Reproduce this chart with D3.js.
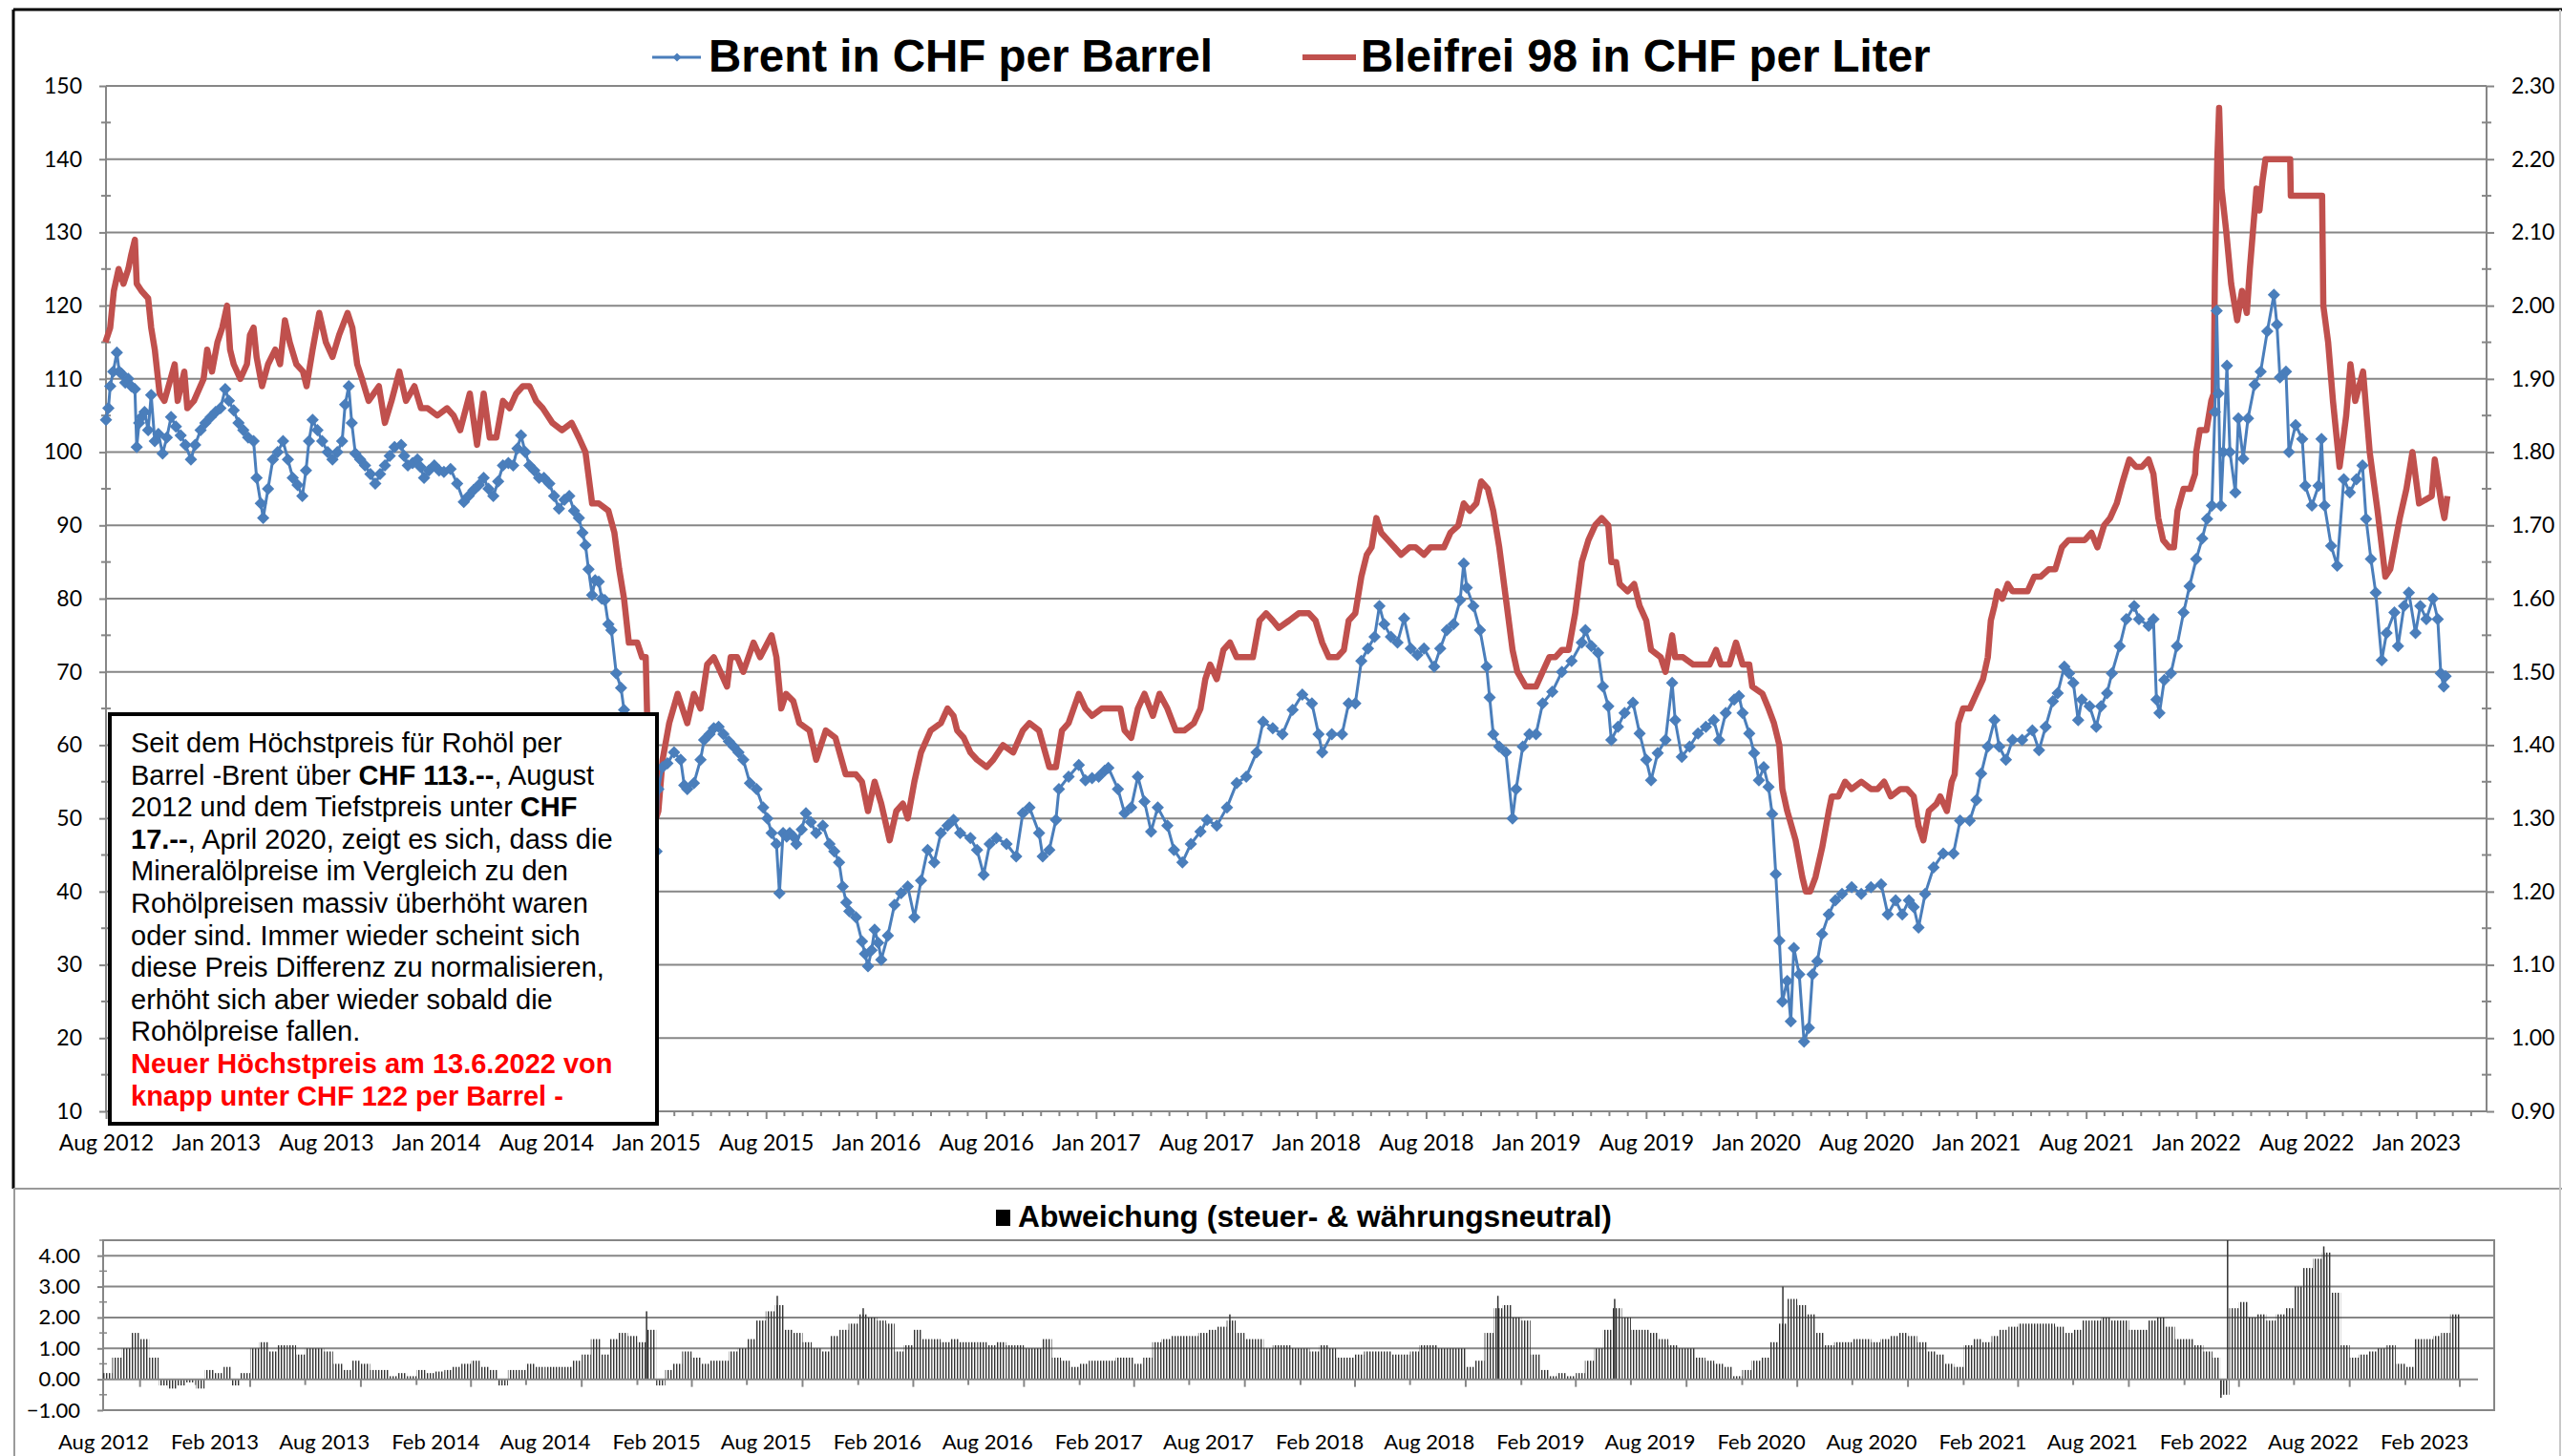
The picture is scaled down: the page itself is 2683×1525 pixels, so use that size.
<!DOCTYPE html>
<html>
<head>
<meta charset="utf-8">
<script src="https://cdn.jsdelivr.net/npm/d3@7"></script>
<style>
  body { margin: 0; background: #fff; }
  svg { display: block; }
</style>
</head>
<body>
<script>
// Brent in CHF per Barrel (left axis)
const brent = [
["2012-08-02",104.4],["2012-08-06",106],["2012-08-09",109],["2012-08-14",111],["2012-08-20",113.6],["2012-08-24",111],
["2012-08-28",110.7],["2012-09-03",109.5],["2012-09-08",110],["2012-09-13",109],["2012-09-19",108.6],["2012-09-22",100.7],
["2012-09-26",104],["2012-09-30",104.8],["2012-10-05",105.5],["2012-10-11",103],["2012-10-16",107.8],["2012-10-22",101.5],
["2012-10-28",102.5],["2012-11-04",99.8],["2012-11-11",102],["2012-11-18",104.8],["2012-11-26",103.5],["2012-12-04",102.3],
["2012-12-12",101],["2012-12-21",99],["2012-12-28",101],["2013-01-06",103],["2013-01-14",104],["2013-01-23",104.8],
["2013-01-31",105.5],["2013-02-08",106],["2013-02-16",108.6],["2013-02-22",107],["2013-03-02",105.7],["2013-03-10",104],
["2013-03-18",103],["2013-03-26",102],["2013-04-04",101.5],["2013-04-09",96.5],["2013-04-16",93],["2013-04-20",91],
["2013-04-28",95],["2013-05-06",99],["2013-05-14",100],["2013-05-23",101.5],["2013-05-31",99],["2013-06-08",96.5],
["2013-06-16",95.5],["2013-06-24",94],["2013-06-30",97.5],["2013-07-05",101.5],["2013-07-11",104.4],["2013-07-19",103],
["2013-07-27",101.5],["2013-08-05",100],["2013-08-13",99],["2013-08-21",100],["2013-08-29",101.5],["2013-09-03",106.5],
["2013-09-09",109],["2013-09-14",104],["2013-09-20",99.8],["2013-09-28",99],["2013-10-06",98.2],["2013-10-15",97],
["2013-10-23",95.7],["2013-10-31",97],["2013-11-08",98.2],["2013-11-16",99.5],["2013-11-24",100.7],["2013-12-05",101],
["2013-12-10",99.5],["2013-12-16",98.2],["2013-12-24",98.5],["2014-01-01",99],["2014-01-06",98],["2014-01-12",96.5],
["2014-01-20",97.5],["2014-01-29",98.2],["2014-02-06",97.5],["2014-02-14",97.3],["2014-02-25",97.7],["2014-03-08",95.7],
["2014-03-19",93.2],["2014-03-27",94],["2014-04-04",94.8],["2014-04-13",95.5],["2014-04-21",96.5],["2014-04-29",95],
["2014-05-07",94],["2014-05-15",96],["2014-05-23",98.2],["2014-06-01",98.5],["2014-06-09",98.2],["2014-06-16",100.5],
["2014-06-22",102.3],["2014-06-29",100],["2014-07-06",98.2],["2014-07-14",97.5],["2014-07-22",96.5],["2014-07-30",96.5],
["2014-08-08",95.7],["2014-08-16",94],["2014-08-24",92.3],["2014-09-02",93.5],["2014-09-10",94],["2014-09-18",92],
["2014-09-26",91],["2014-10-02",89],["2014-10-07",87.3],["2014-10-12",84],["2014-10-18",80.5],["2014-10-23",82.5],
["2014-10-29",82.3],["2014-11-03",80],["2014-11-08",79.8],["2014-11-14",76.5],["2014-11-19",75.7],["2014-11-27",69.8],
["2014-12-05",67.8],["2014-12-10",64.8],["2014-12-16",59],["2014-12-23",57.5],["2015-01-01",55],["2015-01-08",50],
["2015-01-14",47],["2015-01-20",44],["2015-01-27",44],["2015-02-02",45.5],["2015-02-05",54],["2015-02-12",57],
["2015-02-20",57.5],["2015-03-03",59],["2015-03-14",58],["2015-03-20",54.5],["2015-03-25",54],["2015-04-05",54.8],
["2015-04-16",58],["2015-04-22",60.7],["2015-05-01",61.5],["2015-05-08",62.3],["2015-05-16",62.5],["2015-05-24",61.5],
["2015-06-02",60.5],["2015-06-10",59.8],["2015-06-18",59],["2015-06-26",58],["2015-07-07",54.8],["2015-07-18",54],
["2015-07-29",51.5],["2015-08-05",50],["2015-08-12",48],["2015-08-20",46.5],["2015-08-25",39.8],["2015-08-31",48],
["2015-09-06",47.5],["2015-09-11",48],["2015-09-17",47.5],["2015-09-22",46.5],["2015-10-01",48.5],["2015-10-08",50.7],
["2015-10-16",49.5],["2015-10-25",48],["2015-11-05",49],["2015-11-16",46.5],["2015-11-24",45.5],["2015-12-02",44],
["2015-12-08",40.7],["2015-12-14",38.5],["2015-12-19",37.3],["2015-12-30",36.5],["2016-01-09",33.2],["2016-01-14",31.5],
["2016-01-19",29.8],["2016-01-25",32],["2016-01-30",34.8],["2016-02-05",33],["2016-02-10",30.7],["2016-02-21",34],
["2016-03-03",38.2],["2016-03-14",39.8],["2016-03-25",40.7],["2016-04-05",36.5],["2016-04-16",41.5],["2016-04-27",45.7],
["2016-05-08",44],["2016-05-19",48],["2016-05-30",49],["2016-06-09",49.8],["2016-06-20",48],["2016-07-07",47.3],
["2016-07-18",45.7],["2016-07-29",42.3],["2016-08-08",46.5],["2016-08-19",47.3],["2016-09-05",46.5],["2016-09-21",44.8],
["2016-10-02",50.7],["2016-10-13",51.5],["2016-10-29",48],["2016-11-04",44.8],["2016-11-15",45.7],["2016-11-26",49.8],
["2016-12-01",54],["2016-12-17",55.7],["2017-01-03",57.3],["2017-01-14",55.2],["2017-01-25",55.5],["2017-02-05",55.7],
["2017-02-15",56.5],["2017-02-21",56.9],["2017-03-09",54],["2017-03-20",50.7],["2017-03-31",51.5],["2017-04-11",55.7],
["2017-04-22",52.3],["2017-05-03",48.2],["2017-05-14",51.5],["2017-05-30",49],["2017-06-10",45.7],["2017-06-24",44],
["2017-07-08",46.5],["2017-07-24",48.2],["2017-08-04",49.8],["2017-08-20",49],["2017-09-06",51.5],["2017-09-22",54.8],
["2017-10-08",55.7],["2017-10-25",59],["2017-11-05",63.2],["2017-11-21",62.3],["2017-12-07",61.5],["2017-12-24",64.8],
["2018-01-09",66.9],["2018-01-25",65.7],["2018-02-05",61.5],["2018-02-11",59],["2018-02-27",61.5],["2018-03-16",61.5],
["2018-03-27",65.7],["2018-04-07",65.7],["2018-04-17",71.5],["2018-04-28",73.2],["2018-05-09",74.8],["2018-05-17",79],
["2018-05-25",76.5],["2018-06-05",74.8],["2018-06-16",74],["2018-06-27",77.3],["2018-07-08",73.2],["2018-07-19",72.3],
["2018-07-30",73.2],["2018-08-16",70.7],["2018-08-26",73.2],["2018-09-06",75.7],["2018-09-17",76.5],["2018-09-28",79.8],
["2018-10-04",84.8],["2018-10-09",81.5],["2018-10-20",79],["2018-10-31",75.7],["2018-11-11",70.7],["2018-11-16",66.5],
["2018-11-22",61.5],["2018-12-02",59.8],["2018-12-13",59],["2018-12-24",50],["2018-12-30",54],["2019-01-10",59.8],
["2019-01-21",61.5],["2019-02-01",61.5],["2019-02-12",65.7],["2019-02-28",67.3],["2019-03-16",70],["2019-04-01",71.5],
["2019-04-18",74],["2019-04-24",75.7],["2019-05-04",73.5],["2019-05-15",72.6],["2019-05-23",68],["2019-06-01",65.3],
["2019-06-06",60.7],["2019-06-17",62.5],["2019-06-28",64.4],["2019-07-12",65.8],["2019-07-23",61.6],["2019-08-03",58],
["2019-08-11",55.2],["2019-08-22",58.9],["2019-09-04",60.7],["2019-09-15",68.5],["2019-09-20",63.4],["2019-10-01",58.4],
["2019-10-14",59.8],["2019-10-28",61.6],["2019-11-10",62.5],["2019-11-23",63.4],["2019-12-02",60.7],["2019-12-13",64.4],
["2019-12-27",66.2],["2020-01-04",66.7],["2020-01-10",64.4],["2020-01-21",61.6],["2020-01-29",58.9],["2020-02-06",55.2],
["2020-02-14",57],["2020-02-22",54.3],["2020-02-28",50.6],["2020-03-05",42.4],["2020-03-11",33.3],["2020-03-16",25],
["2020-03-24",27.8],["2020-03-30",22.3],["2020-04-04",32.3],["2020-04-13",28.7],["2020-04-21",19.5],["2020-04-29",21.4],
["2020-05-05",28.7],["2020-05-13",30.5],["2020-05-21",34.2],["2020-06-01",36.9],["2020-06-12",38.8],["2020-06-23",39.7],
["2020-07-09",40.6],["2020-07-25",39.7],["2020-08-10",40.6],["2020-08-27",41],["2020-09-07",36.9],["2020-09-20",38.8],
["2020-10-01",36.9],["2020-10-12",38.8],["2020-10-20",37.9],["2020-10-28",35.1],["2020-11-08",39.7],["2020-11-22",43.3],
["2020-12-08",45.2],["2020-12-25",45.2],["2021-01-05",49.7],["2021-01-21",49.7],["2021-02-01",52.5],["2021-02-09",56.1],
["2021-02-20",59.8],["2021-03-03",63.4],["2021-03-11",59.8],["2021-03-22",58],["2021-04-02",60.7],["2021-04-18",60.7],
["2021-05-05",62],["2021-05-16",59.3],["2021-05-27",62.5],["2021-06-08",66],["2021-06-16",67.1],["2021-06-27",70.7],
["2021-07-05",69.8],["2021-07-12",68.5],["2021-07-20",63.4],["2021-07-26",66.2],["2021-08-08",65.3],["2021-08-19",62.5],
["2021-08-27",65.3],["2021-09-06",67.1],["2021-09-14",69.8],["2021-09-27",73.5],["2021-10-08",77.2],["2021-10-21",79],
["2021-10-29",77.2],["2021-11-14",76.3],["2021-11-22",77.2],["2021-11-27",66.2],["2021-12-02",64.4],["2021-12-10",68.9],
["2021-12-21",69.8],["2021-12-31",73.5],["2022-01-11",78.1],["2022-01-21",81.7],["2022-02-01",85.4],["2022-02-11",88.2],
["2022-02-19",90.9],["2022-02-27",92.7],["2022-03-04",105.5],["2022-03-07",119.3],["2022-03-10",108],["2022-03-14",92.7],
["2022-03-18",100],["2022-03-24",111.8],["2022-03-29",100],["2022-04-07",94.5],["2022-04-12",104.6],["2022-04-20",99.1],
["2022-04-28",104.6],["2022-05-09",109.2],["2022-05-19",111],["2022-05-30",116.5],["2022-06-10",121.5],["2022-06-15",117.4],
["2022-06-20",110.2],["2022-06-30",111],["2022-07-05",100],["2022-07-16",103.7],["2022-07-27",101.8],["2022-08-01",95.4],
["2022-08-12",92.7],["2022-08-23",95.4],["2022-08-28",101.8],["2022-09-02",92.7],["2022-09-13",87.2],["2022-09-23",84.5],
["2022-10-04",96.3],["2022-10-14",94.5],["2022-10-25",96.3],["2022-11-04",98.2],["2022-11-10",90.9],["2022-11-18",85.4],
["2022-11-26",80.8],["2022-12-06",71.6],["2022-12-14",75.3],["2022-12-27",78.1],["2023-01-02",73.5],["2023-01-12",79],
["2023-01-20",80.8],["2023-01-31",75.3],["2023-02-08",79],["2023-02-18",77.2],["2023-03-01",80],["2023-03-09",77.2],
["2023-03-14",69.8],["2023-03-19",68],["2023-03-22",69.4]
];

// Bleifrei 98 in CHF per Liter (right axis)
const benzin = [
["2012-08-01",1.95],["2012-08-09",1.97],["2012-08-15",2.02],["2012-08-23",2.05],["2012-08-31",2.03],["2012-09-08",2.05],
["2012-09-13",2.07],["2012-09-19",2.09],["2012-09-22",2.03],["2012-09-30",2.02],["2012-10-11",2.01],["2012-10-16",1.97],
["2012-10-22",1.94],["2012-10-30",1.88],["2012-11-07",1.87],["2012-11-24",1.92],["2012-11-29",1.87],["2012-12-10",1.91],
["2012-12-15",1.86],["2012-12-26",1.87],["2013-01-11",1.90],["2013-01-17",1.94],["2013-01-25",1.91],["2013-02-03",1.95],
["2013-02-11",1.97],["2013-02-19",2.00],["2013-02-24",1.94],["2013-03-02",1.92],["2013-03-13",1.90],["2013-03-24",1.92],
["2013-03-29",1.96],["2013-04-04",1.97],["2013-04-09",1.93],["2013-04-18",1.89],["2013-04-28",1.92],["2013-05-10",1.94],
["2013-05-18",1.92],["2013-05-26",1.98],["2013-06-03",1.95],["2013-06-14",1.92],["2013-06-25",1.91],["2013-07-01",1.89],
["2013-07-11",1.94],["2013-07-22",1.99],["2013-08-02",1.95],["2013-08-13",1.93],["2013-08-24",1.96],["2013-09-07",1.99],
["2013-09-15",1.97],["2013-09-23",1.92],["2013-10-01",1.90],["2013-10-12",1.87],["2013-10-29",1.89],["2013-11-08",1.84],
["2013-11-19",1.87],["2013-12-02",1.91],["2013-12-13",1.87],["2013-12-27",1.89],["2014-01-07",1.86],["2014-01-18",1.86],
["2014-02-03",1.85],["2014-02-19",1.86],["2014-03-02",1.85],["2014-03-13",1.83],["2014-03-29",1.88],["2014-04-10",1.81],
["2014-04-21",1.88],["2014-05-01",1.82],["2014-05-12",1.82],["2014-05-23",1.87],["2014-06-03",1.86],["2014-06-14",1.88],
["2014-06-25",1.89],["2014-07-06",1.89],["2014-07-17",1.87],["2014-07-28",1.86],["2014-08-13",1.84],["2014-08-29",1.83],
["2014-09-14",1.84],["2014-09-26",1.82],["2014-10-07",1.80],["2014-10-18",1.73],["2014-10-29",1.73],["2014-11-14",1.72],
["2014-11-24",1.69],["2014-12-02",1.64],["2014-12-10",1.60],["2014-12-18",1.54],["2015-01-01",1.54],["2015-01-09",1.52],
["2015-01-15",1.52],["2015-01-18",1.42],["2015-01-25",1.32],["2015-02-01",1.30],["2015-02-05",1.31],["2015-02-12",1.38],
["2015-02-23",1.43],["2015-03-09",1.47],["2015-03-25",1.43],["2015-04-05",1.47],["2015-04-16",1.45],["2015-04-27",1.51],
["2015-05-08",1.52],["2015-05-19",1.50],["2015-05-30",1.48],["2015-06-05",1.52],["2015-06-16",1.52],["2015-06-26",1.50],
["2015-07-13",1.54],["2015-07-24",1.52],["2015-08-12",1.55],["2015-08-20",1.52],["2015-08-28",1.45],["2015-09-05",1.47],
["2015-09-17",1.46],["2015-09-27",1.43],["2015-10-14",1.42],["2015-10-25",1.38],["2015-11-10",1.42],["2015-11-26",1.41],
["2015-12-13",1.36],["2015-12-30",1.36],["2016-01-09",1.35],["2016-01-19",1.31],["2016-01-30",1.35],["2016-02-10",1.32],
["2016-02-24",1.27],["2016-03-06",1.31],["2016-03-17",1.32],["2016-03-25",1.30],["2016-04-05",1.35],["2016-04-16",1.39],
["2016-05-02",1.42],["2016-05-19",1.43],["2016-05-30",1.45],["2016-06-09",1.44],["2016-06-15",1.42],["2016-06-26",1.41],
["2016-07-07",1.39],["2016-07-18",1.38],["2016-08-03",1.37],["2016-08-14",1.38],["2016-08-30",1.40],["2016-09-16",1.39],
["2016-10-02",1.42],["2016-10-13",1.43],["2016-10-29",1.42],["2016-11-15",1.37],["2016-11-26",1.37],["2016-12-06",1.42],
["2016-12-17",1.43],["2017-01-03",1.47],["2017-01-14",1.45],["2017-01-25",1.44],["2017-02-10",1.45],["2017-02-27",1.45],
["2017-03-13",1.45],["2017-03-20",1.42],["2017-03-31",1.41],["2017-04-11",1.45],["2017-04-22",1.47],["2017-05-06",1.44],
["2017-05-17",1.47],["2017-05-30",1.45],["2017-06-13",1.42],["2017-06-27",1.42],["2017-07-13",1.43],["2017-07-24",1.45],
["2017-08-01",1.49],["2017-08-09",1.51],["2017-08-20",1.49],["2017-08-31",1.53],["2017-09-11",1.54],["2017-09-22",1.52],
["2017-10-03",1.52],["2017-10-19",1.52],["2017-10-30",1.57],["2017-11-10",1.58],["2017-11-21",1.57],["2017-12-01",1.56],
["2017-12-18",1.57],["2018-01-03",1.58],["2018-01-20",1.58],["2018-01-31",1.57],["2018-02-11",1.54],["2018-02-22",1.52],
["2018-03-08",1.52],["2018-03-19",1.53],["2018-03-27",1.57],["2018-04-07",1.58],["2018-04-17",1.63],["2018-04-26",1.66],
["2018-05-04",1.67],["2018-05-12",1.71],["2018-05-20",1.69],["2018-05-31",1.68],["2018-06-11",1.67],["2018-06-22",1.66],
["2018-07-06",1.67],["2018-07-16",1.67],["2018-07-30",1.66],["2018-08-10",1.67],["2018-08-21",1.67],["2018-09-01",1.67],
["2018-09-12",1.69],["2018-09-25",1.70],["2018-10-04",1.73],["2018-10-14",1.72],["2018-10-25",1.73],["2018-11-02",1.76],
["2018-11-13",1.75],["2018-11-22",1.72],["2018-12-02",1.67],["2018-12-13",1.60],["2018-12-24",1.53],["2019-01-01",1.50],
["2019-01-15",1.48],["2019-02-01",1.48],["2019-02-12",1.50],["2019-02-23",1.52],["2019-03-05",1.52],["2019-03-16",1.53],
["2019-03-27",1.53],["2019-04-07",1.58],["2019-04-18",1.65],["2019-04-29",1.68],["2019-05-10",1.70],["2019-05-21",1.71],
["2019-06-01",1.70],["2019-06-06",1.65],["2019-06-14",1.65],["2019-06-20",1.62],["2019-07-03",1.61],["2019-07-14",1.62],
["2019-07-23",1.59],["2019-08-03",1.57],["2019-08-11",1.53],["2019-08-27",1.52],["2019-09-04",1.50],["2019-09-15",1.55],
["2019-09-20",1.52],["2019-10-03",1.52],["2019-10-20",1.51],["2019-11-05",1.51],["2019-11-16",1.51],["2019-11-27",1.53],
["2019-12-05",1.51],["2019-12-19",1.51],["2019-12-30",1.54],["2020-01-10",1.51],["2020-01-21",1.51],["2020-01-26",1.48],
["2020-02-12",1.47],["2020-02-22",1.45],["2020-03-02",1.43],["2020-03-11",1.40],["2020-03-16",1.34],["2020-03-24",1.31],
["2020-04-07",1.27],["2020-04-18",1.22],["2020-04-24",1.20],["2020-05-01",1.20],["2020-05-10",1.22],["2020-05-21",1.26],
["2020-06-01",1.31],["2020-06-06",1.33],["2020-06-17",1.33],["2020-06-28",1.35],["2020-07-09",1.34],["2020-07-25",1.35],
["2020-08-10",1.34],["2020-08-21",1.34],["2020-09-01",1.35],["2020-09-12",1.33],["2020-09-28",1.34],["2020-10-09",1.34],
["2020-10-20",1.33],["2020-10-28",1.29],["2020-11-05",1.27],["2020-11-14",1.31],["2020-11-27",1.32],["2020-12-03",1.33],
["2020-12-14",1.31],["2020-12-22",1.35],["2020-12-27",1.36],["2021-01-02",1.43],["2021-01-10",1.45],["2021-01-21",1.45],
["2021-02-01",1.47],["2021-02-12",1.49],["2021-02-20",1.52],["2021-02-25",1.57],["2021-03-03",1.59],["2021-03-08",1.61],
["2021-03-16",1.60],["2021-03-25",1.62],["2021-04-02",1.61],["2021-04-13",1.61],["2021-04-27",1.61],["2021-05-08",1.63],
["2021-05-19",1.63],["2021-06-01",1.64],["2021-06-12",1.64],["2021-06-23",1.67],["2021-07-04",1.68],["2021-07-15",1.68],
["2021-07-31",1.68],["2021-08-11",1.69],["2021-08-21",1.67],["2021-09-01",1.70],["2021-09-11",1.71],["2021-09-22",1.73],
["2021-10-02",1.76],["2021-10-13",1.79],["2021-10-24",1.78],["2021-11-03",1.78],["2021-11-14",1.79],["2021-11-22",1.77],
["2021-11-30",1.71],["2021-12-08",1.68],["2021-12-18",1.67],["2021-12-26",1.67],["2022-01-01",1.72],["2022-01-11",1.75],
["2022-01-22",1.75],["2022-01-30",1.77],["2022-02-01",1.80],["2022-02-07",1.83],["2022-02-18",1.83],["2022-02-26",1.87],
["2022-03-02",1.88],["2022-03-04",2.04],["2022-03-08",2.20],["2022-03-11",2.27],["2022-03-15",2.16],["2022-03-23",2.10],
["2022-03-31",2.03],["2022-04-10",1.98],["2022-04-18",2.02],["2022-04-26",1.99],["2022-05-01",2.05],["2022-05-06",2.10],
["2022-05-12",2.16],["2022-05-17",2.13],["2022-05-22",2.17],["2022-05-27",2.20],["2022-07-07",2.20],["2022-07-08",2.15],
["2022-08-29",2.15],["2022-08-31",2.00],["2022-09-08",1.95],["2022-09-16",1.87],["2022-09-27",1.78],["2022-10-08",1.85],
["2022-10-15",1.92],["2022-10-23",1.87],["2022-11-05",1.91],["2022-11-16",1.80],["2022-11-29",1.72],["2022-12-12",1.63],
["2022-12-20",1.64],["2023-01-05",1.71],["2023-01-16",1.75],["2023-01-26",1.80],["2023-02-06",1.73],["2023-02-27",1.74],
["2023-03-04",1.79],["2023-03-15",1.73],["2023-03-20",1.71],["2023-03-25",1.74]
];

// Abweichung (steuer- & währungsneutral): two values per month (1st, 16th) from Aug 2012
const abwStart = [2012, 7];
const abw = [
0.2,0.7, 1.0,1.5, 1.3,0.7, -0.2,-0.3, -0.2,-0.1, -0.3,0.3, 0.2,0.4, -0.2,0.2, 1.0,1.2, 0.9,1.1, 1.1,0.8, 1.0,1.0,
0.9,0.5, 0.3,0.6, 0.5,0.3, 0.3,0.1, 0.2,0.1, 0.3,0.2, 0.25,0.3, 0.4,0.5, 0.6,0.4, 0.3,-0.2, 0.3,0.3, 0.5,0.4,
0.4,0.4, 0.4,0.6, 0.8,1.3, 0.8,1.3, 1.5,1.4, 1.2,1.6, -0.2,0.3, 0.5,0.9, 0.7,0.5, 0.6,0.6, 0.9,1.0, 1.3,1.9,
2.2,2.4, 1.6,1.5, 1.2,1.0, 0.9,1.4, 1.6,1.8, 2.1,2.0, 1.9,1.8, 0.9,1.1, 1.6,1.3, 1.3,1.2, 1.3,1.2, 1.2,1.2,
1.1,1.2, 1.1,1.1, 1.0,1.0, 1.3,0.7, 0.6,0.4, 0.5,0.6, 0.6,0.6, 0.7,0.7, 0.5,0.7, 1.2,1.3, 1.4,1.4, 1.4,1.5,
1.6,1.7, 1.9,1.5, 1.3,1.3, 1.0,1.1, 1.1,1.0, 1.0,0.9, 1.1,1.0, 0.7,0.7, 0.8,0.9, 0.9,0.9, 0.8,0.8, 0.9,1.1,
1.1,1.0, 1.0,1.0, 0.4,0.6, 1.5,2.3, 2.4,2.0, 1.9,0.8, 0.3,0.1, 0.2,0.1, 0.2,0.6, 1.0,1.6, 2.3,2.0, 1.6,1.6,
1.5,1.3, 1.1,1.0, 1.0,0.7, 0.6,0.5, 0.4,0.1, 0.3,0.6, 0.7,1.2, 1.8,2.6, 2.4,2.1, 1.5,1.1, 1.2,1.2, 1.3,1.3,
1.2,1.3, 1.4,1.5, 1.4,1.2, 0.9,0.8, 0.5,0.4, 1.1,1.3, 1.2,1.4, 1.6,1.7, 1.8,1.8, 1.8,1.8, 1.7,1.5, 1.6,1.9,
1.9,2.0, 1.9,1.9, 1.6,1.6, 1.9,2.0, 1.7,1.3, 1.3,1.1, 0.9,0.7, -0.5,2.3, 2.5,2.0, 2.1,1.9, 2.1,2.3, 3.0,3.6,
3.9,4.1, 2.8,1.1, 0.7,0.8, 0.9,1.0, 1.1,0.5, 0.4,1.3, 1.3,1.4, 1.5,2.1
];
// single-day extremes drawn as thin lines
const abwSpikes = [
["2015-01-15",2.2],["2015-08-19",2.7],["2016-01-08",2.3],["2017-09-05",2.1],["2018-11-22",2.7],
["2019-06-03",2.6],["2020-03-07",3.0],["2022-03-01",-0.6],["2022-03-12",4.5],["2022-08-18",4.3]
];

const topTickLabels = ["Aug 2012","Jan 2013","Aug 2013","Jan 2014","Aug 2014","Jan 2015","Aug 2015","Jan 2016",
  "Aug 2016","Jan 2017","Aug 2017","Jan 2018","Aug 2018","Jan 2019","Aug 2019","Jan 2020","Aug 2020","Jan 2021",
  "Aug 2021","Jan 2022","Aug 2022","Jan 2023"];
const bottomTickLabels = ["Aug 2012","Feb 2013","Aug 2013","Feb 2014","Aug 2014","Feb 2015","Aug 2015","Feb 2016",
  "Aug 2016","Feb 2017","Aug 2017","Feb 2018","Aug 2018","Feb 2019","Aug 2019","Feb 2020","Aug 2020","Feb 2021",
  "Aug 2021","Feb 2022","Aug 2022","Feb 2023"];
const leftTicks = d3.range(10, 151, 10);
const rightTicks = d3.range(0.9, 2.301, 0.1);
const abwTicks = d3.range(-1, 4.01, 1);

const noteLines = [
  [["Seit dem Höchstpreis für Rohöl per", 0]],
  [["Barrel -Brent über ", 0], ["CHF 113.--", 1], [", August", 0]],
  [["2012 und dem Tiefstpreis unter ", 0], ["CHF", 1]],
  [["17.--", 1], [", April 2020, zeigt es sich, dass die", 0]],
  [["Mineralölpreise im Vergleich zu den", 0]],
  [["Rohölpreisen massiv überhöht waren", 0]],
  [["oder sind. Immer wieder scheint sich", 0]],
  [["diese Preis Differenz zu normalisieren,", 0]],
  [["erhöht sich aber wieder sobald die", 0]],
  [["Rohölpreise fallen.", 0]],
  [["Neuer Höchstpreis am 13.6.2022 von", 2]],
  [["knapp unter CHF 122 per Barrel -", 2]]
];

const W = 2683, H = 1525;
const gridCol = "#868686";
const axisFont = "Lato, 'Open Sans', sans-serif";
const textFont = "'Liberation Sans', Arial, sans-serif";
const blue = "#4A7EBB", red = "#C0504D";
const parse = d3.timeParse("%Y-%m-%d");

const svg = d3.select("body").append("svg").attr("width", W).attr("height", H);

// ---------- top chart ----------
const topStart = parse("2012-08-02");
const x = d3.scaleTime().domain([topStart, parse("2023-05-29")]).range([111, 2604]);
const yL = d3.scaleLinear().domain([10, 150]).range([1164, 90]);
const yR = d3.scaleLinear().domain([0.9, 2.3]).range([1164, 90]);

// panel frames
svg.append("line").attr("x1", 14).attr("x2", W).attr("y1", 10).attr("y2", 10).attr("stroke", "#000").attr("stroke-width", 3);
svg.append("line").attr("x1", 14).attr("x2", 14).attr("y1", 10).attr("y2", 1245).attr("stroke", "#000").attr("stroke-width", 3);
svg.append("line").attr("x1", 14).attr("x2", W).attr("y1", 1245).attr("y2", 1245).attr("stroke", "#9a9a9a").attr("stroke-width", 2);
svg.append("line").attr("x1", 2681).attr("x2", 2681).attr("y1", 10).attr("y2", H).attr("stroke", "#c8c8c8").attr("stroke-width", 2);
svg.append("line").attr("x1", 15).attr("x2", 15).attr("y1", 1245).attr("y2", H).attr("stroke", "#9a9a9a").attr("stroke-width", 2);

// gridlines
svg.append("g").selectAll("line").data(leftTicks.filter(v => v > 10)).join("line")
  .attr("x1", 111).attr("x2", 2604).attr("y1", d => yL(d)).attr("y2", d => yL(d))
  .attr("stroke", gridCol).attr("stroke-width", 2);

// axis lines
const axisLines = svg.append("g").attr("stroke", gridCol).attr("stroke-width", 2);
axisLines.append("line").attr("x1", 111).attr("x2", 111).attr("y1", 90).attr("y2", 1164);
axisLines.append("line").attr("x1", 2604).attr("x2", 2604).attr("y1", 90).attr("y2", 1164);
axisLines.append("line").attr("x1", 111).attr("x2", 2604).attr("y1", 1164).attr("y2", 1164);

// left axis
const gL = svg.append("g").attr("transform", "translate(111,0)")
  .call(d3.axisLeft(yL).tickValues(leftTicks).tickFormat(d3.format("d")).tickSize(7).tickSizeOuter(0).tickPadding(18));
gL.select(".domain").remove();
gL.selectAll("line").attr("stroke", gridCol).attr("stroke-width", 2);
gL.selectAll("text").attr("font-family", axisFont).attr("font-size", 23).attr("fill", "#000");
svg.append("g").selectAll("line").data(d3.range(15, 150, 10)).join("line")
  .attr("x1", 106).attr("x2", 116).attr("y1", d => yL(d)).attr("y2", d => yL(d))
  .attr("stroke", gridCol).attr("stroke-width", 2);

// right axis
const gR = svg.append("g").attr("transform", "translate(2604,0)")
  .call(d3.axisRight(yR).tickValues(rightTicks).tickFormat(d3.format(".2f")).tickSize(8).tickSizeOuter(0).tickPadding(18));
gR.select(".domain").remove();
gR.selectAll("line").attr("stroke", gridCol).attr("stroke-width", 2);
gR.selectAll("text").attr("font-family", axisFont).attr("font-size", 23).attr("fill", "#000");
svg.append("g").selectAll("line").data(d3.range(0.95, 2.3, 0.1)).join("line")
  .attr("x1", 2599).attr("x2", 2609).attr("y1", d => yR(d)).attr("y2", d => yR(d))
  .attr("stroke", gridCol).attr("stroke-width", 2);

// bottom time axis (labels every half year, minor ticks monthly)
const halfYearMs = 182.625 * 864e5;
const topTickDates = topTickLabels.map((_, i) => new Date(+topStart + i * halfYearMs));
const gX = svg.append("g").attr("transform", "translate(0,1164)")
  .call(d3.axisBottom(x).tickValues(topTickDates).tickFormat((d, i) => topTickLabels[i]).tickSize(8).tickSizeOuter(0).tickPadding(17));
gX.select(".domain").remove();
gX.selectAll("line").attr("stroke", gridCol).attr("stroke-width", 2);
gX.selectAll("text").attr("font-family", axisFont).attr("font-size", 23).attr("fill", "#000");
const minorDates = d3.range(0, 130).map(k => new Date(+topStart + k * halfYearMs / 6)).filter(d => d <= x.domain()[1]);
svg.append("g").selectAll("line").data(minorDates.filter((d, k) => k % 6 !== 0)).join("line")
  .attr("x1", d => x(d)).attr("x2", d => x(d)).attr("y1", 1164).attr("y2", 1169)
  .attr("stroke", gridCol).attr("stroke-width", 2);

// red series
const benzinPts = benzin.map(d => [parse(d[0]), d[1]]);
svg.append("path").datum(benzinPts)
  .attr("fill", "none").attr("stroke", red).attr("stroke-width", 6.5).attr("stroke-linejoin", "round")
  .attr("d", d3.line().x(d => x(d[0])).y(d => yR(d[1])));

// blue series with diamond markers
const brentPts = brent.map(d => [parse(d[0]), d[1]]);
svg.append("path").datum(brentPts)
  .attr("fill", "none").attr("stroke", blue).attr("stroke-width", 3).attr("stroke-linejoin", "round")
  .attr("d", d3.line().x(d => x(d[0])).y(d => yL(d[1])));
const diamond = r => `M0,${-r}L${r},0L0,${r}L${-r},0Z`;
svg.append("g").selectAll("path").data(brentPts).join("path")
  .attr("d", diamond(6.5)).attr("fill", blue)
  .attr("transform", d => `translate(${x(d[0])},${yL(d[1])})`);

// legend
const lg = svg.append("g");
lg.append("line").attr("x1", 683).attr("x2", 734).attr("y1", 60).attr("y2", 60).attr("stroke", blue).attr("stroke-width", 3);
lg.append("path").attr("d", diamond(4.5)).attr("fill", blue).attr("transform", "translate(709,60)");
lg.append("text").attr("x", 742).attr("y", 75).text("Brent in CHF per Barrel")
  .attr("font-family", textFont).attr("font-weight", "bold").attr("font-size", 47.5);
lg.append("line").attr("x1", 1364).attr("x2", 1420).attr("y1", 60).attr("y2", 60).attr("stroke", red).attr("stroke-width", 6);
lg.append("text").attr("x", 1425).attr("y", 75).text("Bleifrei 98 in CHF per Liter")
  .attr("font-family", textFont).attr("font-weight", "bold").attr("font-size", 47.5);

// note box
svg.append("rect").attr("x", 115).attr("y", 748).attr("width", 573).attr("height", 429)
  .attr("fill", "#fff").attr("stroke", "#000").attr("stroke-width", 4);
const note = svg.append("text").attr("font-family", textFont).attr("font-size", 29).style("white-space", "pre");
noteLines.forEach((segs, i) => {
  segs.forEach((s, j) => {
    const t = note.append("tspan").text(s[0])
      .attr("font-weight", s[1] ? "bold" : "normal")
      .attr("fill", s[1] === 2 ? "#ff0000" : "#000");
    if (j === 0) t.attr("x", 137).attr("y", 788 + i * 33.6);
  });
});

// ---------- bottom chart ----------
const xb = d3.scaleTime().domain([new Date(2012, 7, 1), new Date(2023, 4, 1)]).range([108, 2595]);
const yb = d3.scaleLinear().domain([-1, 4.5]).range([1477, 1299]);

const defs = svg.append("defs");
defs.append("pattern").attr("id", "hatch").attr("patternUnits", "userSpaceOnUse").attr("width", 3).attr("height", 20)
  .append("rect").attr("width", 1.4).attr("height", 20).attr("fill", "#333");

svg.append("text").attr("x", 1066).attr("y", 1285).text("Abweichung (steuer- & währungsneutral)")
  .attr("font-family", textFont).attr("font-weight", "bold").attr("font-size", 31.8);
svg.append("rect").attr("x", 1043).attr("y", 1267).attr("width", 15).attr("height", 17).attr("fill", "#000");

svg.append("g").selectAll("line").data(abwTicks.filter(v => v > 0)).join("line")
  .attr("x1", 108).attr("x2", 2612).attr("y1", d => yb(d)).attr("y2", d => yb(d))
  .attr("stroke", gridCol).attr("stroke-width", 2);
svg.append("rect").attr("x", 108).attr("y", yb(4.5)).attr("width", 2612 - 108).attr("height", yb(-1) - yb(4.5))
  .attr("fill", "none").attr("stroke", gridCol).attr("stroke-width", 2);

const abwPts = abw.map((v, i) => {
  const m = Math.floor(i / 2);
  const d0 = new Date(abwStart[0], abwStart[1] + m, i % 2 ? 16 : 1);
  const d1 = i % 2 ? new Date(abwStart[0], abwStart[1] + m + 1, 1) : new Date(abwStart[0], abwStart[1] + m, 16);
  return { d0, d1, v };
});
svg.append("g").selectAll("rect").data(abwPts).join("rect")
  .attr("x", d => xb(d.d0)).attr("width", d => xb(d.d1) - xb(d.d0))
  .attr("y", d => Math.min(yb(d.v), yb(0))).attr("height", d => Math.abs(yb(d.v) - yb(0)))
  .attr("fill", "url(#hatch)");
svg.append("g").selectAll("rect").data(abwSpikes).join("rect")
  .attr("x", d => xb(parse(d[0]))).attr("width", 1.5)
  .attr("y", d => Math.min(yb(d[1]), yb(0))).attr("height", d => Math.abs(yb(d[1]) - yb(0)))
  .attr("fill", "#333");

// zero line axis
svg.append("line").attr("x1", 108).attr("x2", 2595).attr("y1", yb(0)).attr("y2", yb(0))
  .attr("stroke", gridCol).attr("stroke-width", 2);

const gBL = svg.append("g").attr("transform", "translate(108,0)")
  .call(d3.axisLeft(yb).tickValues(abwTicks).tickFormat(d3.format(".2f")).tickSize(6).tickSizeOuter(0).tickPadding(18));
gBL.select(".domain").remove();
gBL.selectAll("line").attr("stroke", gridCol).attr("stroke-width", 2);
gBL.selectAll("text").attr("font-family", axisFont).attr("font-size", 22).attr("fill", "#000");
svg.append("g").selectAll("line").data(d3.range(-0.5, 4.6, 1)).join("line")
  .attr("x1", 104).attr("x2", 112).attr("y1", d => yb(d)).attr("y2", d => yb(d))
  .attr("stroke", gridCol).attr("stroke-width", 1.5);

const bTickDates = d3.timeMonth.every(3).range(new Date(2012, 7, 1), new Date(2023, 4, 2));
svg.append("g").selectAll("line").data(bTickDates).join("line")
  .attr("x1", d => xb(d)).attr("x2", d => xb(d)).attr("y1", yb(0)).attr("y2", (d, i) => yb(0) + (i % 2 ? 6 : 8))
  .attr("stroke", gridCol).attr("stroke-width", 2);
const bLabelDates = bottomTickLabels.map((_, i) => new Date(2012, 7 + 6 * i, 1));
const gBX = svg.append("g").attr("transform", "translate(0,1490)")
  .call(d3.axisBottom(xb).tickValues(bLabelDates).tickFormat((d, i) => bottomTickLabels[i]).tickSize(0).tickPadding(12));
gBX.select(".domain").remove();
gBX.selectAll("text").attr("font-family", axisFont).attr("font-size", 22).attr("fill", "#000");
</script>
</body>
</html>
